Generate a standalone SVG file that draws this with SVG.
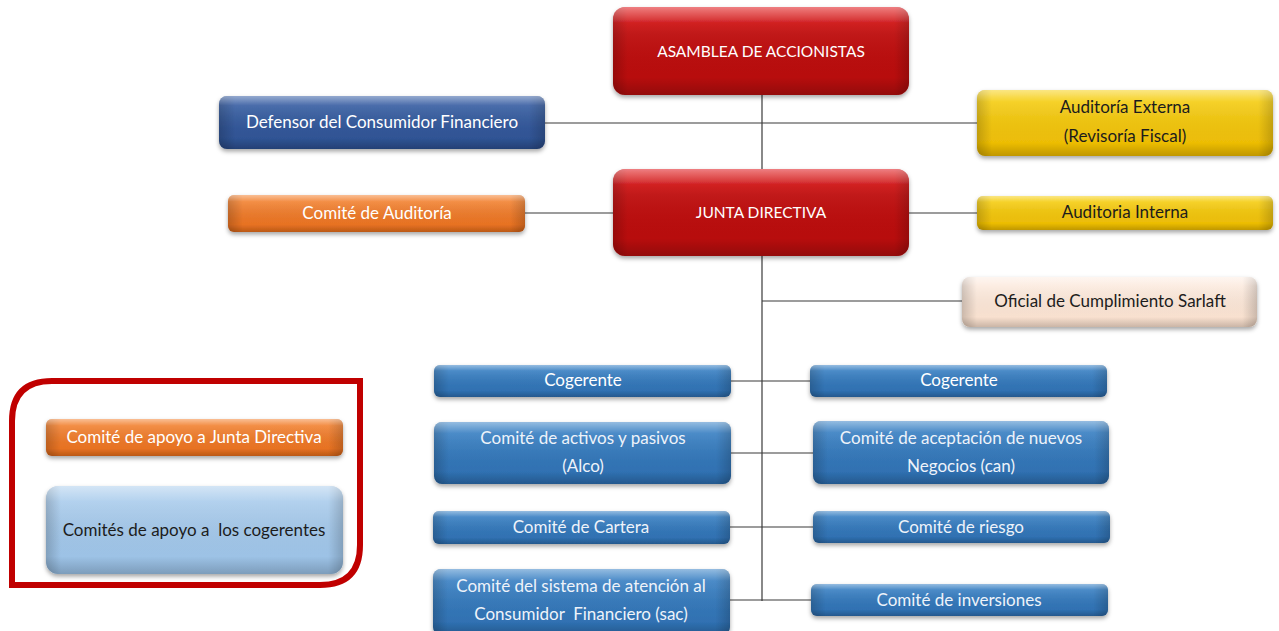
<svg xmlns="http://www.w3.org/2000/svg" width="1279" height="631" viewBox="0 0 1279 631">
<style>
text{font-family:Lato,"Open Sans","Liberation Sans",sans-serif;font-size:17px;text-anchor:middle}
.up{font-size:15.5px}
.w{fill:#ffffff}
.wl{fill:#eef3fa}
.d{fill:#1c1c1c}
.conn line{stroke:#3a3a3a;stroke-width:1.2}
.shade{fill:url(#hshade)}
.gloss{fill:url(#vgloss)}
</style>
<defs>
<filter id="sh" x="-10%" y="-20%" width="120%" height="150%">
<feDropShadow dx="0" dy="2.5" stdDeviation="2" flood-color="#000" flood-opacity="0.35"/>
</filter>
<linearGradient id="hshade" x1="0" y1="0" x2="1" y2="0">
<stop offset="0" stop-color="#000" stop-opacity="0.18"/>
<stop offset="0.05" stop-color="#000" stop-opacity="0"/>
<stop offset="0.95" stop-color="#000" stop-opacity="0"/>
<stop offset="1" stop-color="#000" stop-opacity="0.18"/>
</linearGradient>
<linearGradient id="vgloss" x1="0" y1="0" x2="0" y2="1">
<stop offset="0" stop-color="#fff" stop-opacity="0.45"/>
<stop offset="0.18" stop-color="#fff" stop-opacity="0.08"/>
<stop offset="0.8" stop-color="#000" stop-opacity="0"/>
<stop offset="1" stop-color="#000" stop-opacity="0.18"/>
</linearGradient>
<linearGradient id="red" x1="0" y1="0" x2="0" y2="1"><stop offset="0" stop-color="#e0191b"/><stop offset="0.3" stop-color="#c00a0a"/><stop offset="1" stop-color="#b40808"/></linearGradient>
<linearGradient id="navy" x1="0" y1="0" x2="0" y2="1"><stop offset="0" stop-color="#3d64a8"/><stop offset="1" stop-color="#2c4f8f"/></linearGradient>
<linearGradient id="yel" x1="0" y1="0" x2="0" y2="1"><stop offset="0" stop-color="#f7d21c"/><stop offset="1" stop-color="#eab800"/></linearGradient>
<linearGradient id="ora" x1="0" y1="0" x2="0" y2="1"><stop offset="0" stop-color="#f58a3c"/><stop offset="1" stop-color="#e46c1c"/></linearGradient>
<linearGradient id="blu" x1="0" y1="0" x2="0" y2="1"><stop offset="0" stop-color="#3f86c8"/><stop offset="1" stop-color="#2c6cad"/></linearGradient>
<linearGradient id="pch" x1="0" y1="0" x2="0" y2="1"><stop offset="0" stop-color="#fdeee4"/><stop offset="1" stop-color="#f7ddca"/></linearGradient>
<linearGradient id="lbl" x1="0" y1="0" x2="0" y2="1"><stop offset="0" stop-color="#b0d0ee"/><stop offset="1" stop-color="#98bfe4"/></linearGradient>
</defs>
<rect width="1279" height="631" fill="#ffffff"/>

<g id="connectors" class="conn">
<line x1="762" y1="95" x2="762" y2="169"/>
<line x1="762" y1="256" x2="762" y2="601"/>
<line x1="545" y1="123" x2="977" y2="123"/>
<line x1="525" y1="213" x2="613" y2="213"/>
<line x1="909" y1="213" x2="977" y2="213"/>
<line x1="762" y1="301" x2="962" y2="301"/>
<line x1="731" y1="381" x2="810" y2="381"/>
<line x1="731" y1="453" x2="813" y2="453"/>
<line x1="730" y1="527" x2="813" y2="527"/>
<line x1="730" y1="600" x2="811" y2="600"/>
</g>

<g id="asamblea">
<rect x="613" y="7" width="296" height="88" rx="12" fill="url(#red)" filter="url(#sh)"/>
<rect x="613" y="7" width="296" height="88" rx="12" class="shade"/>
<rect x="613" y="7" width="296" height="88" rx="12" class="gloss"/>
<text x="761" y="57" class="w up">ASAMBLEA DE ACCIONISTAS</text>
</g>

<g id="defensor">
<rect x="219" y="96" width="326" height="53" rx="8" fill="url(#navy)" filter="url(#sh)"/>
<rect x="219" y="96" width="326" height="53" rx="8" class="shade"/>
<rect x="219" y="96" width="326" height="53" rx="8" class="gloss"/>
<text x="382" y="128" class="w">Defensor del Consumidor Financiero</text>
</g>

<g id="auditoria-externa">
<rect x="977" y="90" width="296" height="66" rx="8" fill="url(#yel)" filter="url(#sh)"/>
<rect x="977" y="90" width="296" height="66" rx="8" class="shade"/>
<rect x="977" y="90" width="296" height="66" rx="8" class="gloss"/>
<text x="1125" y="113" class="d">Auditoría Externa</text>
<text x="1125" y="142" class="d">(Revisoría Fiscal)</text>
</g>

<g id="junta">
<rect x="613" y="169" width="296" height="87" rx="12" fill="url(#red)" filter="url(#sh)"/>
<rect x="613" y="169" width="296" height="87" rx="12" class="shade"/>
<rect x="613" y="169" width="296" height="87" rx="12" class="gloss"/>
<text x="761" y="218" class="w up">JUNTA DIRECTIVA</text>
</g>

<g id="comite-auditoria">
<rect x="228" y="195" width="297" height="37" rx="6" fill="url(#ora)" filter="url(#sh)"/>
<rect x="228" y="195" width="297" height="37" rx="6" class="shade"/>
<rect x="228" y="195" width="297" height="37" rx="6" class="gloss"/>
<text x="377" y="219" class="w">Comité de Auditoría</text>
</g>

<g id="auditoria-interna">
<rect x="977" y="196" width="296" height="34" rx="6" fill="url(#yel)" filter="url(#sh)"/>
<rect x="977" y="196" width="296" height="34" rx="6" class="shade"/>
<rect x="977" y="196" width="296" height="34" rx="6" class="gloss"/>
<text x="1125" y="218" class="d">Auditoria Interna</text>
</g>

<g id="oficial">
<rect x="962" y="277" width="295" height="50" rx="8" fill="url(#pch)" filter="url(#sh)"/>
<rect x="962" y="277" width="295" height="50" rx="8" class="shade"/>
<rect x="962" y="277" width="295" height="50" rx="8" class="gloss"/>
<text x="1110" y="307" class="d">Oficial de Cumplimiento Sarlaft</text>
</g>

<g id="cogerente-1">
<rect x="434" y="365" width="297" height="32" rx="6" fill="url(#blu)" filter="url(#sh)"/>
<rect x="434" y="365" width="297" height="32" rx="6" class="shade"/>
<rect x="434" y="365" width="297" height="32" rx="6" class="gloss"/>
<text x="583" y="386" class="w">Cogerente</text>
</g>

<g id="cogerente-2">
<rect x="810" y="365" width="297" height="32" rx="6" fill="url(#blu)" filter="url(#sh)"/>
<rect x="810" y="365" width="297" height="32" rx="6" class="shade"/>
<rect x="810" y="365" width="297" height="32" rx="6" class="gloss"/>
<text x="959" y="386" class="w">Cogerente</text>
</g>

<g id="comite-alco">
<rect x="434" y="422" width="297" height="62" rx="8" fill="url(#blu)" filter="url(#sh)"/>
<rect x="434" y="422" width="297" height="62" rx="8" class="shade"/>
<rect x="434" y="422" width="297" height="62" rx="8" class="gloss"/>
<text x="583" y="444" class="wl">Comité de activos y pasivos</text>
<text x="583" y="472" class="wl">(Alco)</text>
</g>

<g id="comite-can">
<rect x="813" y="421" width="296" height="63" rx="8" fill="url(#blu)" filter="url(#sh)"/>
<rect x="813" y="421" width="296" height="63" rx="8" class="shade"/>
<rect x="813" y="421" width="296" height="63" rx="8" class="gloss"/>
<text x="961" y="444" class="wl">Comité de aceptación de nuevos</text>
<text x="961" y="472" class="wl">Negocios (can)</text>
</g>

<g id="comite-cartera">
<rect x="433" y="511" width="297" height="33" rx="6" fill="url(#blu)" filter="url(#sh)"/>
<rect x="433" y="511" width="297" height="33" rx="6" class="shade"/>
<rect x="433" y="511" width="297" height="33" rx="6" class="gloss"/>
<text x="581" y="533" class="wl">Comité de Cartera</text>
</g>

<g id="comite-riesgo">
<rect x="813" y="511" width="297" height="32" rx="6" fill="url(#blu)" filter="url(#sh)"/>
<rect x="813" y="511" width="297" height="32" rx="6" class="shade"/>
<rect x="813" y="511" width="297" height="32" rx="6" class="gloss"/>
<text x="961" y="533" class="wl">Comité de riesgo</text>
</g>

<g id="comite-sac">
<rect x="433" y="569" width="297" height="66" rx="8" fill="url(#blu)" filter="url(#sh)"/>
<rect x="433" y="569" width="297" height="66" rx="8" class="shade"/>
<rect x="433" y="569" width="297" height="66" rx="8" class="gloss"/>
<text x="581" y="592" class="wl">Comité del sistema de atención al</text>
<text x="581" y="620" class="wl" xml:space="preserve">Consumidor  Financiero (sac)</text>
</g>

<g id="comite-inversiones">
<rect x="811" y="584" width="297" height="32" rx="6" fill="url(#blu)" filter="url(#sh)"/>
<rect x="811" y="584" width="297" height="32" rx="6" class="shade"/>
<rect x="811" y="584" width="297" height="32" rx="6" class="gloss"/>
<text x="959" y="606" class="wl">Comité de inversiones</text>
</g>

<g id="legend">
<path d="M12 585 L12 421 Q12 381 52 381 L360 381 L360 545 Q360 585 320 585 Z" fill="none" stroke="#c00000" stroke-width="6"/>
<g id="legend-junta">
<rect x="46" y="419" width="297" height="37" rx="6" fill="url(#ora)" filter="url(#sh)"/>
<rect x="46" y="419" width="297" height="37" rx="6" class="shade"/>
<rect x="46" y="419" width="297" height="37" rx="6" class="gloss"/>
<text x="194" y="443" class="w">Comité de apoyo a Junta Directiva</text>
</g>
<g id="legend-cogerentes">
<rect x="46" y="486" width="297" height="88" rx="12" fill="url(#lbl)" filter="url(#sh)"/>
<rect x="46" y="486" width="297" height="88" rx="12" class="shade"/>
<rect x="46" y="486" width="297" height="88" rx="12" class="gloss"/>
<text x="194" y="536" class="d" xml:space="preserve">Comités de apoyo a  los cogerentes</text>
</g>
</g>
</svg>
